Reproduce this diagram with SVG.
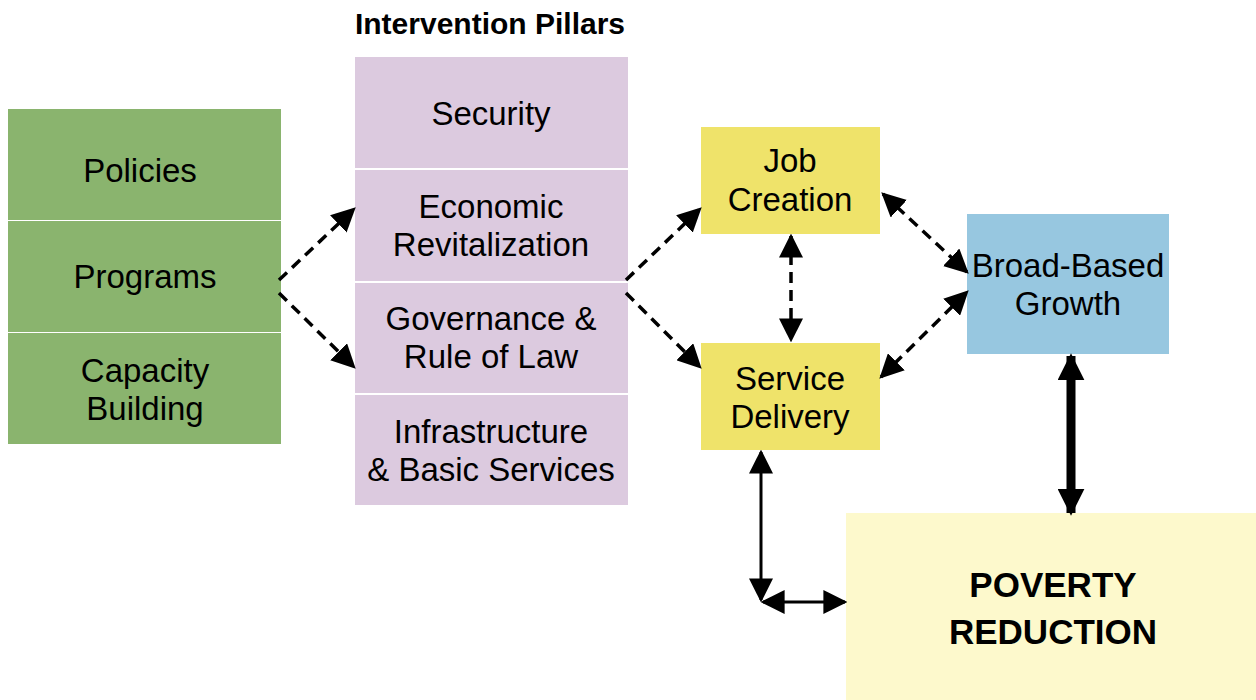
<svg xmlns="http://www.w3.org/2000/svg" width="1256" height="700" viewBox="0 0 1256 700">
<style>
text{font-family:"Liberation Sans","Open Sans",sans-serif;fill:#000;text-anchor:middle}
.l{font-size:33px}
.g{fill:#8ab46e}
.p{fill:#dccadf}
.y{fill:#efe36a}
.d{stroke:#000;stroke-width:3.5;stroke-dasharray:11 7;fill:none}
.s{stroke:#000;stroke-width:3;fill:none}
.t{stroke:#000;stroke-width:9;fill:none}
</style>
<defs>
<marker id="b" viewBox="0 0 10 10" refX="9" refY="5" markerWidth="24" markerHeight="24" markerUnits="userSpaceOnUse" orient="auto-start-reverse">
<path d="M0,0 L10,5 L0,10 z" fill="#000"/>
</marker>
<marker id="c" viewBox="0 0 10 10" refX="9" refY="5" markerWidth="27" markerHeight="27" markerUnits="userSpaceOnUse" orient="auto-start-reverse">
<path d="M0,0 L10,5 L0,10 z" fill="#000"/>
</marker>
</defs>
<rect width="1256" height="700" fill="#fff"/>
<g id="inputs">
<rect class="g" x="8" y="109" width="273" height="111"/>
<rect class="g" x="8" y="221" width="273" height="111"/>
<rect class="g" x="8" y="333" width="273" height="111"/>
<text class="l" x="140" y="182">Policies</text>
<text class="l" x="145" y="288">Programs</text>
<text class="l" x="145" y="382">Capacity</text>
<text class="l" x="145" y="420">Building</text>
</g>
<g id="pillars">
<text x="490" y="34" style="font-size:30px;font-weight:bold">Intervention Pillars</text>
<rect class="p" x="355" y="57" width="273" height="111"/>
<rect class="p" x="355" y="170" width="273" height="111"/>
<rect class="p" x="355" y="283" width="273" height="110"/>
<rect class="p" x="355" y="395" width="273" height="110"/>
<text class="l" x="491" y="125">Security</text>
<text class="l" x="491" y="218">Economic</text>
<text class="l" x="491" y="256">Revitalization</text>
<text class="l" x="491" y="330">Governance &amp;</text>
<text class="l" x="491" y="368">Rule of Law</text>
<text class="l" x="491" y="443">Infrastructure</text>
<text class="l" x="491" y="481">&amp; Basic Services</text>
</g>
<g id="job">
<rect class="y" x="701" y="127" width="179" height="107"/>
<text class="l" x="790" y="172">Job</text>
<text class="l" x="790" y="211">Creation</text>
</g>
<g id="service">
<rect class="y" x="701" y="343" width="179" height="107"/>
<text class="l" x="790" y="390">Service</text>
<text class="l" x="790" y="428">Delivery</text>
</g>
<g id="growth">
<rect x="967" y="214" width="202" height="140" fill="#97c7e0"/>
<text class="l" x="1068" y="277">Broad-Based</text>
<text class="l" x="1068" y="315">Growth</text>
</g>
<g id="poverty">
<rect x="846" y="513" width="410" height="187" fill="#fdf9cc"/>
<text x="1053" y="597" style="font-size:35px;font-weight:bold">POVERTY</text>
<text x="1053" y="644" style="font-size:35px;font-weight:bold">REDUCTION</text>
</g>
<g id="connectors">
<path class="d" d="M279,280 L354,209" marker-end="url(#b)"/>
<path class="d" d="M279,293 L354,367" marker-end="url(#b)"/>
<path class="d" d="M626,280 L700,209" marker-end="url(#b)"/>
<path class="d" d="M626,293 L700,367" marker-end="url(#b)"/>
<path class="d" d="M791,236 L791,340" marker-start="url(#b)" marker-end="url(#b)"/>
<path class="d" d="M883,194 L967,272" marker-start="url(#b)" marker-end="url(#b)"/>
<path class="d" d="M881,377 L967,292" marker-start="url(#b)" marker-end="url(#b)"/>
<path class="s" d="M761,452 L761,600" marker-start="url(#b)" marker-end="url(#b)"/>
<path class="s" d="M763,602 L845,602" marker-start="url(#b)" marker-end="url(#b)"/>
<path class="t" d="M1071,356 L1071,513" marker-start="url(#c)" marker-end="url(#c)"/>
</g>
</svg>
